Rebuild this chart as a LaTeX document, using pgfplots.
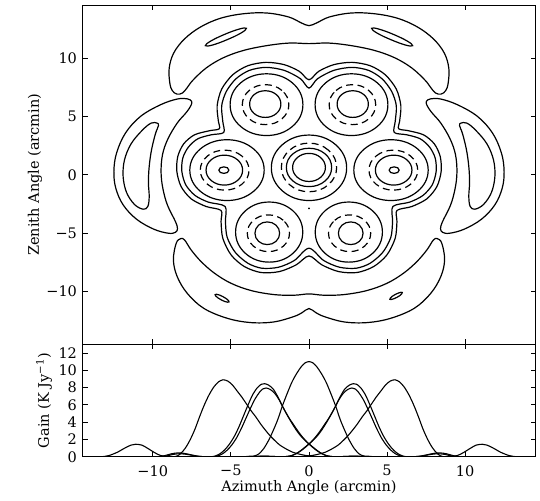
\documentclass[border=0pt]{standalone}
\usepackage{fontspec}
\setmainfont{DejaVu Serif}
\usepackage{pgfplots}
\pgfplotsset{compat=1.18}
\begin{document}
\begin{tikzpicture}
\pgfplotsset{
  panel/.style={scale only axis, width=453pt, xmin=-14.5, xmax=14.5,
    axis line style={line width=0.9pt},
    tick style={black, line width=0.8pt}, major tick length=5pt, tick align=inside,
    xtick={-10,-5,0,5,10},
    ticklabel style={font=\fontsize{14.5}{17}\selectfont},
    yticklabel style={xshift=-2pt},
    xticklabel style={yshift=-5pt},
    label style={font=\fontsize{14.5}{17}\selectfont}},
  cont/.style={black, line width=1.2pt, smooth cycle, tension=0.6, mark=none},
  ring/.style={cont, tension=0.7},
  dring/.style={ring, dash pattern=on 7pt off 4.5pt},
  prof/.style={black, line width=1.1pt, smooth, tension=0.5, mark=none},
}
% ---------------- contour map ----------------
\begin{axis}[panel, name=top, height=339pt, ymin=-14.5, ymax=14.5,
  xticklabels={}, ytick={-10,-5,0,5,10}, yticklabels={−10,−5,0,5,10},
  ylabel={Zenith Angle (arcmin)},
  ylabel style={at={(axis description cs:-0.105,0.5)}, anchor=center}]
% top arc
\addplot[cont] coordinates {(-8.45,6.9) (-8.75,7.2) (-8.91,7.85) (-8.95,9.13) (-8.66,10.42) (-7.97,11.62) (-6.95,12.64) (-5.67,13.39) (-4.18,13.78) (-2.69,13.84) (-1.30,13.50) (-0.5,13.0) (0,12.76) (0.5,13.0) (1.30,13.50) (2.69,13.84) (4.18,13.78) (5.67,13.39) (6.95,12.64) (7.97,11.62) (8.66,10.42) (8.95,9.13) (8.91,7.85) (8.75,7.2) (8.45,6.9) (8.1,7.0) (7.8,7.45) (7.44,8.08) (6.59,9.13) (5.52,9.99) (4.24,10.62) (2.75,11.04) (1.26,11.27) (0,11.22) (-1.26,11.27) (-2.75,11.04) (-4.24,10.62) (-5.52,9.99) (-6.59,9.13) (-7.44,8.08) (-7.8,7.45) (-8.1,7.0)};
\addplot[ring] coordinates {(-6.63,11.05) (-6.29,11.44) (-5.39,12.02) (-4.46,12.47) (-4.01,12.53) (-4.35,12.13) (-5.24,11.56) (-6.18,11.10)};
\addplot[ring] coordinates {(6.63,11.05) (6.29,11.44) (5.39,12.02) (4.46,12.47) (4.01,12.53) (4.35,12.13) (5.24,11.56) (6.18,11.10)};
% bottom arc
\addplot[cont] coordinates {(-8.2,-5.45) (-8.5,-5.85) (-8.68,-7.28) (-8.44,-8.70) (-7.80,-10.13) (-6.74,-11.42) (-5.24,-12.27) (-3.75,-12.64) (-2.26,-12.59) (-0.98,-12.13) (-0.45,-11.8) (0,-11.44) (0.45,-11.8) (0.98,-12.13) (2.26,-12.59) (3.75,-12.64) (5.24,-12.27) (6.74,-11.42) (7.80,-10.13) (8.44,-8.70) (8.68,-7.28) (8.5,-5.85) (8.2,-5.45) (7.95,-5.6) (7.55,-6.42) (6.91,-7.42) (6.05,-8.42) (4.99,-9.28) (3.71,-9.90) (2.22,-10.25) (0.94,-10.30) (0,-10.19) (-0.94,-10.30) (-2.22,-10.25) (-3.71,-9.90) (-4.99,-9.28) (-6.05,-8.42) (-6.91,-7.42) (-7.55,-6.42) (-7.95,-5.6)};
\addplot[ring] coordinates {(-5.12,-10.87) (-5.39,-10.84) (-5.84,-10.52) (-6.01,-10.25) (-5.74,-10.28) (-5.29,-10.60)};
\addplot[ring] coordinates {(5.97,-10.07) (5.82,-10.33) (5.42,-10.61) (5.18,-10.65) (5.33,-10.39) (5.73,-10.11)};
% side lobes
\addplot[cont] coordinates {(-8.44,6.48) (-9.51,5.99) (-10.79,4.99) (-11.75,3.57) (-12.32,1.86) (-12.49,0.29) (-12.37,-1.14) (-11.90,-2.57) (-11.04,-3.80) (-9.94,-4.65) (-9.0,-5.0) (-8.55,-4.92) (-8.42,-4.6) (-8.55,-4.0) (-9.06,-2.60) (-9.35,-1.2) (-9.47,0.2) (-9.38,1.71) (-9.04,3.05) (-8.44,4.42) (-7.85,5.34) (-7.55,5.95) (-7.52,6.3) (-7.8,6.5)};
\addplot[cont] coordinates {(8.44,6.48) (9.51,5.99) (10.79,4.99) (11.75,3.57) (12.32,1.86) (12.49,0.29) (12.37,-1.14) (11.90,-2.57) (11.04,-3.80) (9.94,-4.65) (9.0,-5.0) (8.55,-4.92) (8.42,-4.6) (8.55,-4.0) (9.06,-2.60) (9.35,-1.2) (9.47,0.2) (9.38,1.71) (9.04,3.05) (8.44,4.42) (7.85,5.34) (7.55,5.95) (7.52,6.3) (7.8,6.5)};
\addplot[cont] coordinates {(-9.72,4.42) (-10.11,4.42) (-10.68,3.80) (-11.39,2.65) (-11.81,1.28) (-11.90,-0.14) (-11.68,-1.51) (-11.17,-2.54) (-10.62,-2.94) (-10.32,-2.71) (-10.23,-1.86) (-10.28,-0.66) (-10.23,0.71) (-10.08,2.14) (-9.83,3.51) (-9.64,4.20)};
\addplot[cont] coordinates {(9.72,4.42) (10.11,4.42) (10.68,3.80) (11.39,2.65) (11.81,1.28) (11.90,-0.14) (11.68,-1.51) (11.17,-2.54) (10.62,-2.94) (10.32,-2.71) (10.23,-1.86) (10.28,-0.66) (10.23,0.71) (10.08,2.14) (9.83,3.51) (9.64,4.20)};
% envelope of the seven beams
\addplot[cont, tension=0.5] coordinates {(0,8.13) (0.62,8.85) (1.58,9.42) (2.75,9.62) (3.92,9.33) (4.88,8.56) (5.59,7.33) (5.88,5.91) (5.80,4.57) (5.74,3.94) (6.37,3.77) (7.33,3.42) (8.02,2.65) (8.40,1.57) (8.46,0.29) (8.19,-1.00) (7.55,-2.05) (6.59,-2.71) (5.63,-3.05) (5.63,-4.00) (5.52,-5.42) (4.99,-6.85) (4.14,-7.85) (3.07,-8.36) (1.90,-8.28) (0.83,-7.71) (0,-6.94) (-0.83,-7.71) (-1.90,-8.28) (-3.07,-8.36) (-4.14,-7.85) (-4.99,-6.85) (-5.52,-5.42) (-5.63,-4.00) (-5.63,-3.05) (-6.59,-2.71) (-7.55,-2.05) (-8.19,-1.00) (-8.46,0.29) (-8.40,1.57) (-8.02,2.65) (-7.33,3.42) (-6.37,3.77) (-5.74,3.94) (-5.80,4.57) (-5.88,5.91) (-5.59,7.33) (-4.88,8.56) (-3.92,9.33) (-2.75,9.62) (-1.58,9.42) (-0.62,8.85)};
\addplot[cont, tension=0.5] coordinates {(0,7.42) (0.55,8.22) (1.58,8.93) (2.75,9.19) (3.82,8.93) (4.67,8.22) (5.29,7.14) (5.59,5.91) (5.52,4.57) (5.46,3.62) (6.27,3.42) (7.12,3.08) (7.72,2.37) (8.08,1.43) (8.14,0.29) (7.89,-0.86) (7.29,-1.77) (6.44,-2.34) (5.37,-2.71) (5.35,-4.00) (5.24,-5.34) (4.73,-6.62) (3.92,-7.56) (3.03,-7.99) (1.96,-7.91) (0.94,-7.33) (0,-6.28) (-0.94,-7.33) (-1.96,-7.91) (-3.03,-7.99) (-3.92,-7.56) (-4.73,-6.62) (-5.24,-5.34) (-5.35,-4.00) (-5.37,-2.71) (-6.44,-2.34) (-7.29,-1.77) (-7.89,-0.86) (-8.14,0.29) (-8.08,1.43) (-7.72,2.37) (-7.12,3.08) (-6.27,3.42) (-5.46,3.62) (-5.52,4.57) (-5.59,5.91) (-5.29,7.14) (-4.67,8.22) (-3.82,8.93) (-2.75,9.19) (-1.58,8.93) (-0.55,8.22)};
% central beam
\addplot[ring] coordinates {(1.05,0.63) (0.74,1.48) (0,1.83) (-0.74,1.48) (-1.05,0.63) (-0.74,-0.22) (0,-0.57) (0.74,-0.22)};
\addplot[ring] coordinates {(1.45,0.63) (1.03,1.79) (0,2.27) (-1.03,1.79) (-1.45,0.63) (-1.03,-0.53) (0,-1.01) (1.03,-0.53)};
\addplot[dring] coordinates {(1.77,0.63) (1.25,2.10) (0,2.71) (-1.25,2.10) (-1.77,0.63) (-1.25,-0.84) (0,-1.45) (1.25,-0.84)};
\addplot[ring] coordinates {(2.41,0.6) (1.70,2.58) (0,3.40) (-1.70,2.58) (-2.41,0.6) (-1.70,-1.38) (0,-2.2) (1.70,-1.38)};
% left beam
\addplot[ring] coordinates {(-5.13,0.40) (-5.22,0.60) (-5.45,0.68) (-5.68,0.60) (-5.77,0.40) (-5.68,0.20) (-5.45,0.12) (-5.22,0.20)};
\addplot[ring] coordinates {(-4.25,0.40) (-4.59,1.30) (-5.42,1.68) (-6.25,1.30) (-6.59,0.40) (-6.25,-0.50) (-5.42,-0.88) (-4.59,-0.50)};
\addplot[dring] coordinates {(-3.84,0.40) (-4.30,1.61) (-5.4,2.11) (-6.50,1.61) (-6.96,0.40) (-6.50,-0.81) (-5.4,-1.31) (-4.30,-0.81)};
\addplot[ring] coordinates {(-2.87,0.40) (-3.57,2.24) (-5.25,3.0) (-6.93,2.24) (-7.63,0.40) (-6.93,-1.44) (-5.25,-2.2) (-3.57,-1.44)};
% right beam
\addplot[ring] coordinates {(5.13,0.40) (5.22,0.60) (5.45,0.68) (5.68,0.60) (5.77,0.40) (5.68,0.20) (5.45,0.12) (5.22,0.20)};
\addplot[ring] coordinates {(4.25,0.40) (4.59,1.30) (5.42,1.68) (6.25,1.30) (6.59,0.40) (6.25,-0.50) (5.42,-0.88) (4.59,-0.50)};
\addplot[dring] coordinates {(3.84,0.40) (4.30,1.61) (5.4,2.11) (6.50,1.61) (6.96,0.40) (6.50,-0.81) (5.4,-1.31) (4.30,-0.81)};
\addplot[ring] coordinates {(2.87,0.40) (3.57,2.24) (5.25,3.0) (6.93,2.24) (7.63,0.40) (6.93,-1.44) (5.25,-2.2) (3.57,-1.44)};
% upper beams
\addplot[ring] coordinates {(-1.8,6.05) (-2.09,6.86) (-2.8,7.19) (-3.51,6.86) (-3.8,6.05) (-3.51,5.24) (-2.8,4.91) (-2.09,5.24)};
\addplot[dring] coordinates {(-1.29,6.0) (-1.73,7.21) (-2.78,7.71) (-3.83,7.21) (-4.27,6.0) (-3.83,4.79) (-2.78,4.29) (-1.73,4.79)};
\addplot[ring] coordinates {(-0.39,6.0) (-1.07,7.87) (-2.72,8.64) (-4.37,7.87) (-5.05,6.0) (-4.37,4.13) (-2.72,3.36) (-1.07,4.13)};
\addplot[ring] coordinates {(1.8,6.05) (2.09,6.86) (2.8,7.19) (3.51,6.86) (3.8,6.05) (3.51,5.24) (2.8,4.91) (2.09,5.24)};
\addplot[dring] coordinates {(1.29,6.0) (1.73,7.21) (2.78,7.71) (3.83,7.21) (4.27,6.0) (3.83,4.79) (2.78,4.29) (1.73,4.79)};
\addplot[ring] coordinates {(0.39,6.0) (1.07,7.87) (2.72,8.64) (4.37,7.87) (5.05,6.0) (4.37,4.13) (2.72,3.36) (1.07,4.13)};
% lower beams
\addplot[ring] coordinates {(-1.88,-5.0) (-2.11,-4.31) (-2.67,-4.03) (-3.23,-4.31) (-3.46,-5.0) (-3.23,-5.69) (-2.67,-5.97) (-2.11,-5.69)};
\addplot[dring] coordinates {(-1.25,-5.0) (-1.65,-3.89) (-2.6,-3.43) (-3.55,-3.89) (-3.95,-5.0) (-3.55,-6.11) (-2.6,-6.57) (-1.65,-6.11)};
\addplot[ring] coordinates {(-0.40,-4.9) (-1.03,-3.08) (-2.55,-2.33) (-4.07,-3.08) (-4.70,-4.9) (-4.07,-6.72) (-2.55,-7.47) (-1.03,-6.72)};
\addplot[ring] coordinates {(1.88,-5.0) (2.11,-4.31) (2.67,-4.03) (3.23,-4.31) (3.46,-5.0) (3.23,-5.69) (2.67,-5.97) (2.11,-5.69)};
\addplot[dring] coordinates {(1.25,-5.0) (1.65,-3.89) (2.6,-3.43) (3.55,-3.89) (3.95,-5.0) (3.55,-6.11) (2.6,-6.57) (1.65,-6.11)};
\addplot[ring] coordinates {(0.40,-4.9) (1.03,-3.08) (2.55,-2.33) (4.07,-3.08) (4.70,-4.9) (4.07,-6.72) (2.55,-7.47) (1.03,-6.72)};
\addplot[only marks, mark=*, mark size=0.7pt, black] coordinates {(0,-2.88)};
\end{axis}
% ---------------- gain profiles ----------------
\begin{axis}[panel, name=bot, at={(top.south west)}, anchor=north west,
  height=112.5pt, ymin=0, ymax=13,
  xticklabels={−10,−5,0,5,10},
  ytick={0,2,4,6,8,10,12}, yticklabels={0,2,4,6,8,10,12},
  xlabel={Azimuth Angle (arcmin)},
  ylabel={Gain (K Jy\textsuperscript{−1})},
  xlabel style={at={(axis description cs:0.5,-0.273)}, anchor=center},
  ylabel style={at={(axis description cs:-0.085,0.5)}, anchor=center}]
% outer beams
\addplot[prof] coordinates {(-13.5,0) (-13.2,0.02) (-12.8,0.15) (-12.3,0.5) (-11.8,1.0) (-11.4,1.35) (-11.1,1.45) (-10.7,1.35) (-10.3,0.95) (-9.9,0.5) (-9.5,0.15) (-9.0,0.02) (-8.5,0.05) (-8.2,0.4) (-7.9,1.05) (-7.6,2.0) (-7.3,3.2) (-7.0,4.65) (-6.7,6.0) (-6.4,7.15) (-6.1,8.05) (-5.8,8.65) (-5.5,8.9) (-5.2,8.75) (-4.9,8.3) (-4.6,7.6) (-4.3,6.9) (-4.0,6.1) (-3.7,5.3) (-3.4,4.6) (-3.1,3.8) (-2.8,3.1) (-2.5,2.45) (-2.2,1.9) (-1.9,1.4) (-1.6,1.05) (-1.3,0.75) (-1.0,0.5) (-0.6,0.3) (-0.2,0.15) (0.3,0.05) (0.8,0) (13.5,0)};
\addplot[prof] coordinates {(13.5,0) (13.2,0.02) (12.8,0.15) (12.3,0.5) (11.8,1.0) (11.4,1.35) (11.1,1.45) (10.7,1.35) (10.3,0.95) (9.9,0.5) (9.5,0.15) (9.0,0.02) (8.5,0.05) (8.2,0.4) (7.9,1.05) (7.6,2.0) (7.3,3.2) (7.0,4.65) (6.7,6.0) (6.4,7.15) (6.1,8.05) (5.8,8.65) (5.5,8.9) (5.2,8.75) (4.9,8.3) (4.6,7.6) (4.3,6.9) (4.0,6.1) (3.7,5.3) (3.4,4.6) (3.1,3.8) (2.8,3.1) (2.5,2.45) (2.2,1.9) (1.9,1.4) (1.6,1.05) (1.3,0.75) (1.0,0.5) (0.6,0.3) (0.2,0.15) (-0.3,0.05) (-0.8,0) (-13.5,0)};
% inner beams (two cuts each)
\addplot[prof] coordinates {(-13.5,0) (-10.0,0) (-9.6,0.02) (-9.2,0.15) (-8.8,0.35) (-8.4,0.45) (-8.0,0.4) (-7.6,0.25) (-7.2,0.1) (-6.8,0.02) (-6.3,0.0) (-6.0,0.1) (-5.7,0.35) (-5.4,0.8) (-5.1,1.45) (-4.8,2.3) (-4.5,3.4) (-4.2,4.7) (-3.9,6.0) (-3.6,7.2) (-3.3,8.0) (-3.05,8.38) (-2.85,8.45) (-2.6,8.3) (-2.3,7.85) (-2.0,6.95) (-1.7,5.85) (-1.4,4.85) (-1.1,3.9) (-0.8,3.05) (-0.5,2.35) (-0.2,1.8) (0.1,1.35) (0.4,0.9) (0.7,0.5) (1.0,0.22) (1.3,0.07) (1.7,0.0) (2.3,0.04) (2.9,0.08) (3.5,0.04) (4.0,0) (13.5,0)};
\addplot[prof] coordinates {(-13.5,0) (-9.9,0) (-9.5,0.02) (-9.1,0.1) (-8.7,0.28) (-8.3,0.35) (-7.9,0.3) (-7.5,0.18) (-7.1,0.06) (-6.6,0.0) (-6.15,0.0) (-5.85,0.1) (-5.55,0.33) (-5.25,0.75) (-4.95,1.35) (-4.65,2.15) (-4.35,3.2) (-4.05,4.4) (-3.75,5.6) (-3.45,6.7) (-3.15,7.5) (-2.95,7.85) (-2.75,7.95) (-2.5,7.8) (-2.2,7.35) (-1.9,6.55) (-1.6,5.5) (-1.3,4.55) (-1.0,3.75) (-0.7,2.95) (-0.4,2.25) (-0.1,1.65) (0.2,1.15) (0.5,0.72) (0.8,0.38) (1.1,0.14) (1.4,0.04) (1.8,0.0) (2.3,0.04) (2.9,0.07) (3.5,0.03) (4.0,0) (13.5,0)};
\addplot[prof] coordinates {(13.5,0) (10.0,0) (9.6,0.02) (9.2,0.15) (8.8,0.35) (8.4,0.45) (8.0,0.4) (7.6,0.25) (7.2,0.1) (6.8,0.02) (6.3,0.0) (6.0,0.1) (5.7,0.35) (5.4,0.8) (5.1,1.45) (4.8,2.3) (4.5,3.4) (4.2,4.7) (3.9,6.0) (3.6,7.2) (3.3,8.0) (3.05,8.38) (2.85,8.45) (2.6,8.3) (2.3,7.85) (2.0,6.95) (1.7,5.85) (1.4,4.85) (1.1,3.9) (0.8,3.05) (0.5,2.35) (0.2,1.8) (-0.1,1.35) (-0.4,0.9) (-0.7,0.5) (-1.0,0.22) (-1.3,0.07) (-1.7,0.0) (-2.3,0.04) (-2.9,0.08) (-3.5,0.04) (-4.0,0) (-13.5,0)};
\addplot[prof] coordinates {(13.5,0) (9.9,0) (9.5,0.02) (9.1,0.1) (8.7,0.28) (8.3,0.35) (7.9,0.3) (7.5,0.18) (7.1,0.06) (6.6,0.0) (6.15,0.0) (5.85,0.1) (5.55,0.33) (5.25,0.75) (4.95,1.35) (4.65,2.15) (4.35,3.2) (4.05,4.4) (3.75,5.6) (3.45,6.7) (3.15,7.5) (2.95,7.85) (2.75,7.95) (2.5,7.8) (2.2,7.35) (1.9,6.55) (1.6,5.5) (1.3,4.55) (1.0,3.75) (0.7,2.95) (0.4,2.25) (0.1,1.65) (-0.2,1.15) (-0.5,0.72) (-0.8,0.38) (-1.1,0.14) (-1.4,0.04) (-1.8,0.0) (-2.3,0.04) (-2.9,0.07) (-3.5,0.03) (-4.0,0) (-13.5,0)};
% central beam
\addplot[prof] coordinates {(-13.5,0) (-4.5,0) (-4.0,0.05) (-3.5,0.1) (-3.2,0.35) (-2.9,0.95) (-2.6,1.85) (-2.3,3.0) (-2.0,4.3) (-1.7,5.9) (-1.4,7.3) (-1.1,8.6) (-0.8,9.6) (-0.5,10.4) (-0.25,10.85) (0,11.0) (0.25,10.85) (0.5,10.4) (0.8,9.6) (1.1,8.6) (1.4,7.3) (1.7,5.9) (2.0,4.3) (2.3,3.0) (2.6,1.85) (2.9,0.95) (3.2,0.35) (3.5,0.1) (4.0,0.05) (4.5,0) (13.5,0)};
\end{axis}
\pgfresetboundingbox
\path ([xshift=-82.5pt,yshift=5.3pt]top.north west) rectangle ([xshift=4.5pt,yshift=-43.7pt]bot.south east);
\end{tikzpicture}
\end{document}
